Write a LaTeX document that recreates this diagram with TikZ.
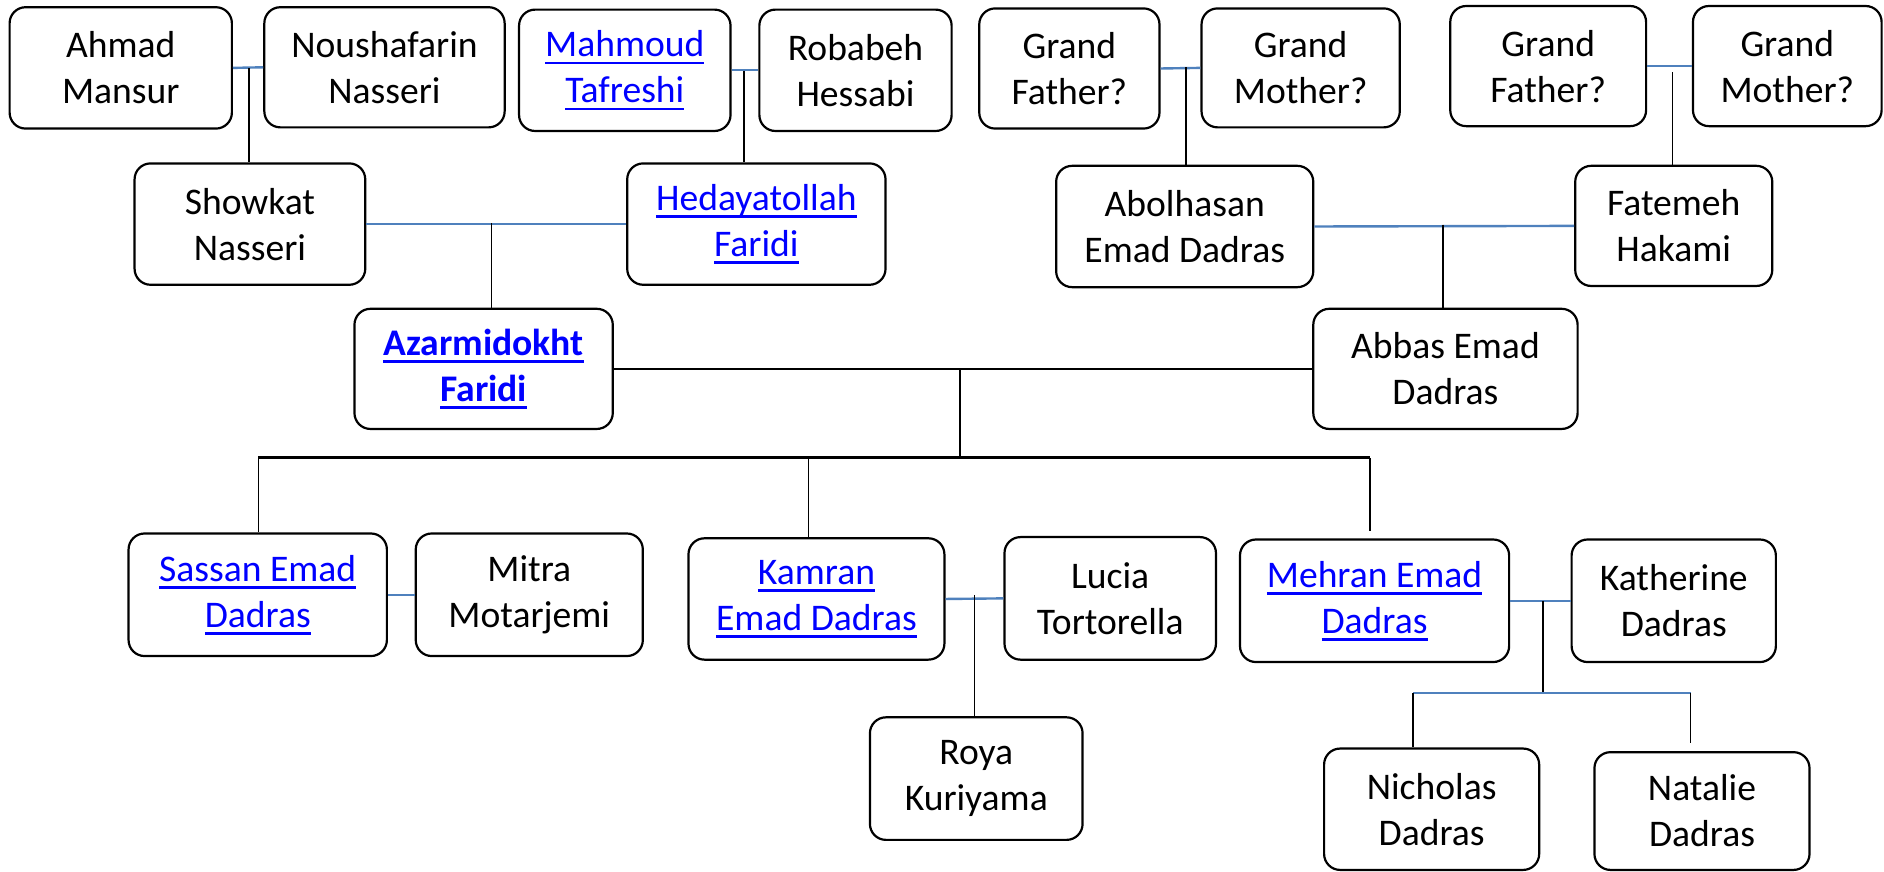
\documentclass[tikz,border=0pt]{standalone}
\usepackage{fontspec}
\setmainfont{Carlito}
\definecolor{linkblue}{RGB}{0,0,255}
\definecolor{couplecol}{RGB}{79,129,189}
\newcommand\lk[1]{{\color{linkblue}\setbox0\hbox{#1}\rlap{\rule[-3.8pt]{\wd0}{1.3pt}}\box0}}
\tikzset{
  box/.style={draw, line width=1.1pt, rounded corners=8pt, align=center, inner sep=0pt,
    font=\fontsize{18.8}{23}\selectfont, fill=white},
  sz/.style 2 args={minimum width=#1*0.60075pt, minimum height=#2*0.60075pt},
  couple/.style={draw=couplecol, line width=1.2pt},
  desc/.style={draw=black, line width=0.8pt},
  trunk/.style={draw=black, line width=1.3pt}
}
\begin{document}
\begin{tikzpicture}[x=0.60075pt, y=-0.60075pt]
\useasboundingbox (0,0) rectangle (1568,725);
% row 1
\node[box, sz={185}{101}] (ahmad)   at (100.5,56.5) {Ahmad\\Mansur};
\node[box, sz={200}{100}] (noush)   at (320,56)     {Noushafarin\\Nasseri};
\node[box, sz={176}{101}] (mahmoud) at (520,58.5)   {\lk{Mahmoud}\\\lk{Tafreshi}};
\node[box, sz={160}{101}] (robabeh) at (712,58.5)   {Robabeh\\Hessabi};
\node[box, sz={150}{100}] (gfa)     at (890,57)     {Grand\\Father?};
\node[box, sz={165}{99}]  (gma)     at (1082.5,56.5){Grand\\Mother?};
\node[box, sz={163}{100}] (gfb)     at (1288.5,55)  {Grand\\Father?};
\node[box, sz={157}{100}] (gmb)     at (1487.5,55)  {Grand\\Mother?};
% row 2
\node[box, sz={192}{101}] (showkat) at (208,186.5)  {Showkat\\Nasseri};
\node[box, sz={215}{101}] (hedayat) at (629.5,186.5){\lk{Hedayatollah}\\\lk{Faridi}};
\node[box, sz={214}{101}] (abol)    at (986,188.5)  {Abolhasan\\Emad Dadras};
\node[box, sz={164}{100}] (fatemeh) at (1393,188)   {Fatemeh\\Hakami};
% row 3
\node[box, sz={215}{100}] (azar)    at (402.5,307)  {\lk{\textbf{Azarmidokht}}\\\lk{\textbf{Faridi}}};
\node[box, sz={220}{100}] (abbas)   at (1203,307)   {Abbas Emad\\Dadras};
% row 4
\node[box, sz={215}{102}] (sassan)  at (214.5,495)  {\lk{Sassan Emad}\\\lk{Dadras}};
\node[box, sz={189}{102}] (mitra)   at (440.5,495)  {Mitra\\Motarjemi};
\node[box, sz={213}{101}] (kamran)  at (679.5,498.5){\lk{Kamran}\\\lk{Emad Dadras}};
\node[box, sz={176}{102}] (lucia)   at (924,498)    {Lucia\\Tortorella};
\node[box, sz={224}{102}] (mehran)  at (1144,500)   {\lk{Mehran Emad}\\\lk{Dadras}};
\node[box, sz={170}{102}] (kath)    at (1393,500)   {Katherine\\Dadras};
% row 5
\node[box, sz={177}{102}] (roya)    at (812.5,648)  {Roya\\Kuriyama};
\node[box, sz={179}{101}] (nich)    at (1191.5,673.5){Nicholas\\Dadras};
\node[box, sz={179}{98}]  (natalie) at (1416.5,675) {Natalie\\Dadras};

% couple lines
\draw[couple] (ahmad.east) -- (noush.west);
\draw[couple] (mahmoud.east) -- (robabeh.west);
\draw[couple] (gfa.east) -- (gma.west);
\draw[couple] (gfb.east) -- (gmb.west);
\draw[couple] (showkat.east) -- (hedayat.west);
\draw[couple] (abol.east) -- (fatemeh.west);
\draw[couple] (sassan.east) -- (mitra.west);
\draw[couple] (kamran.east) -- (lucia.west);
\draw[couple] (mehran.east) -- (kath.west);

% junction coordinates
\coordinate (j1) at (207,57);
\coordinate (j2) at (619,59);
\coordinate (j3) at (987,56);
\coordinate (j4) at (1392,60);
\coordinate (j5) at (409,186);
\coordinate (j6) at (1201,187);
\coordinate (j7) at (799,307);
\coordinate (j8) at (799,381);
\coordinate (r1) at (215,381);
\coordinate (r2) at (673,381);
\coordinate (r3) at (1140,381);
\coordinate (j9) at (811,495);
\coordinate (j10) at (1284,500);
\coordinate (j11) at (1284,577);
\coordinate (k1) at (1176,577);
\coordinate (k2) at (1407,577);

% descent lines
\draw[desc] (j1) -- (j1 |- showkat.north);
\draw[desc] (j2) -- (j2 |- hedayat.north);
\draw[desc] (j3) -- (j3 |- abol.north);
\draw[desc] (j4) -- (j4 |- fatemeh.north);
\draw[desc] (j5) -- (j5 |- azar.north);
\draw[desc] (j6) -- (j6 |- abbas.north);
\draw[trunk] (azar.east) -- (abbas.west);
\draw[desc] (j7) -- (j8);
\draw[trunk] (r1) -- (r3);
\draw[desc] (r1) -- (r1 |- sassan.north);
\draw[desc] (r2) -- (r2 |- kamran.north);
\draw[desc, shorten >=3.5pt] (r3) -- (r3 |- mehran.north);
\draw[desc] (j9) -- (j9 |- roya.north);
\draw[desc] (j10) -- (j11);
\draw[couple] (k1) -- (k2);
\draw[desc] (k1) -- (k1 |- nich.north);
\draw[desc, shorten >=4pt] (k2) -- (k2 |- natalie.north);
\end{tikzpicture}
\end{document}
